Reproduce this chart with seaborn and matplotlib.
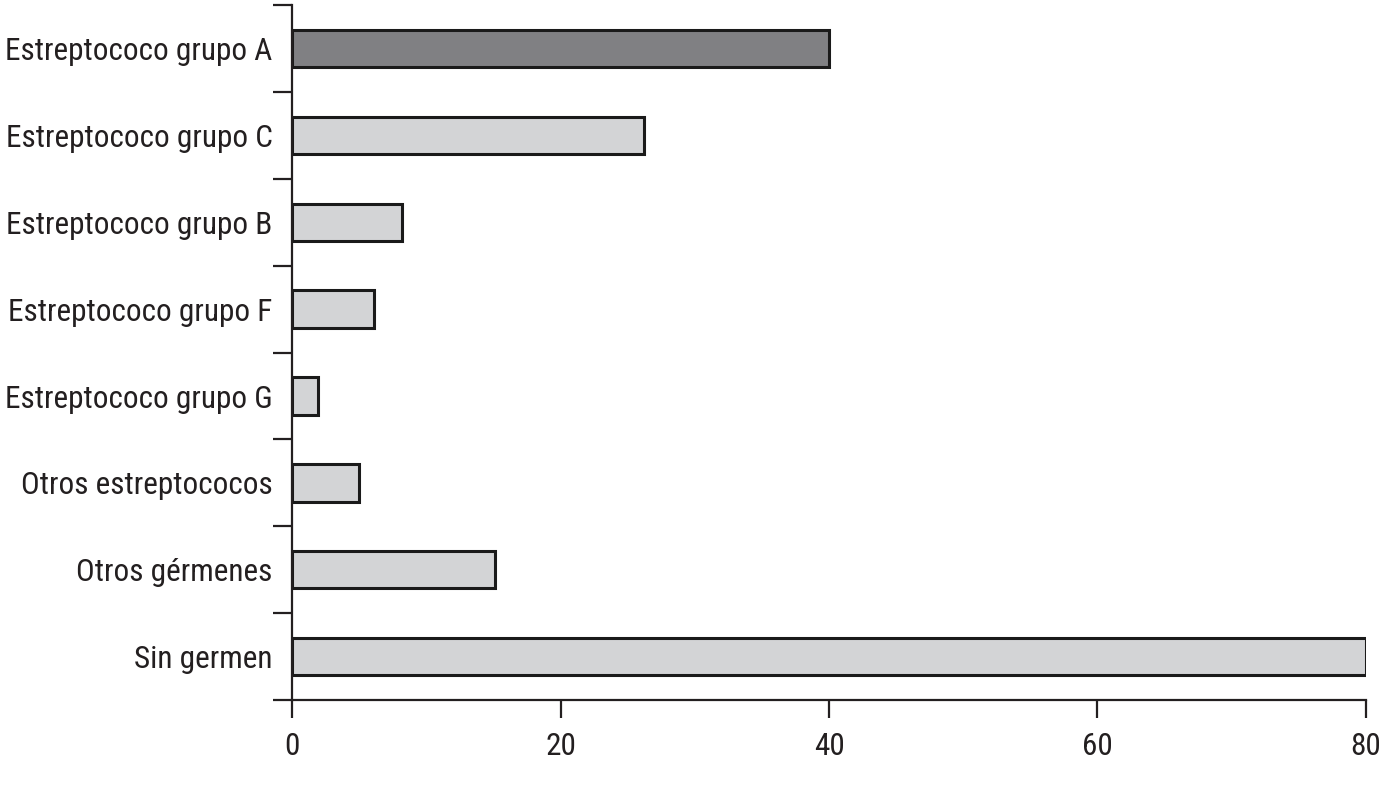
import matplotlib
matplotlib.use("Agg")
import matplotlib.pyplot as plt
from matplotlib import font_manager
import seaborn as sns
import pandas as pd
import numpy as np

categories = ["Estreptococo grupo A", "Estreptococo grupo C", "Estreptococo grupo B",
              "Estreptococo grupo F", "Estreptococo grupo G", "Otros estreptococos",
              "Otros gérmenes", "Sin germen"]
values = [40, 26.2, 8.2, 6.1, 1.9, 5.0, 15.1, 80]
colors = ["#808083"] + ["#d3d4d6"] * 7
xticks = [0, 20, 40, 60, 80]

sns.set_theme(style="white")

# choose a condensed face if one exists
fam = "DejaVu Sans"
stretch = "normal"
names = {(f.name, f.stretch) for f in font_manager.fontManager.ttflist}
for cand in ["Liberation Sans Narrow", "Roboto Condensed", "Open Sans Condensed", "Noto Sans Condensed"]:
    if any(n == cand for n, s in names):
        fam = cand
        break
else:
    if ("DejaVu Sans", "condensed") in names or ("DejaVu Sans", "semi-condensed") in names:
        stretch = "condensed" if ("DejaVu Sans", "condensed") in names else "semi-condensed"
plt.rcParams['font.family'] = [fam, 'DejaVu Sans']
plt.rcParams['font.stretch'] = stretch
fs = 22.5 if (fam != "DejaVu Sans" or stretch != "normal") else 18

df = pd.DataFrame({"cat": categories, "val": values})

fig = plt.figure(figsize=(13.91, 7.87), dpi=100)
ax = fig.add_axes([0.21, 0.1105, 0.772, 0.883])
sns.barplot(data=df, y="cat", x="val", hue="cat", palette=colors, orient="h",
            width=0.43, edgecolor="#1a1a1a", linewidth=2.2, legend=False, ax=ax,
            saturation=1)

ax.set_xlim(0, 80)
ax.set_ylim(len(categories) - 0.5, -0.5)
ax.set_xticks(xticks)
ax.set_xticklabels([str(t) for t in xticks], fontsize=fs, color="#231f20")
ax.set_yticks(np.arange(len(categories) + 1) - 0.5)
ax.set_yticklabels([])
ax.set_yticks(np.arange(len(categories)), minor=True)
ax.set_yticklabels(categories, minor=True, fontsize=fs, color="#231f20")
ax.tick_params(axis="y", which="minor", left=False, length=0, pad=14)
ax.tick_params(axis="y", which="major", left=True, length=14, width=1.6, color="#231f20", direction="out")
ax.tick_params(axis="x", bottom=True, length=13, width=1.6, color="#231f20", direction="out", pad=10)
ax.set_xlabel("")
ax.set_ylabel("")
for s in ["top", "right"]:
    ax.spines[s].set_visible(False)
for s in ["left", "bottom"]:
    ax.spines[s].set_linewidth(1.6)
    ax.spines[s].set_color("#231f20")

fig.savefig("out.png", dpi=100)
